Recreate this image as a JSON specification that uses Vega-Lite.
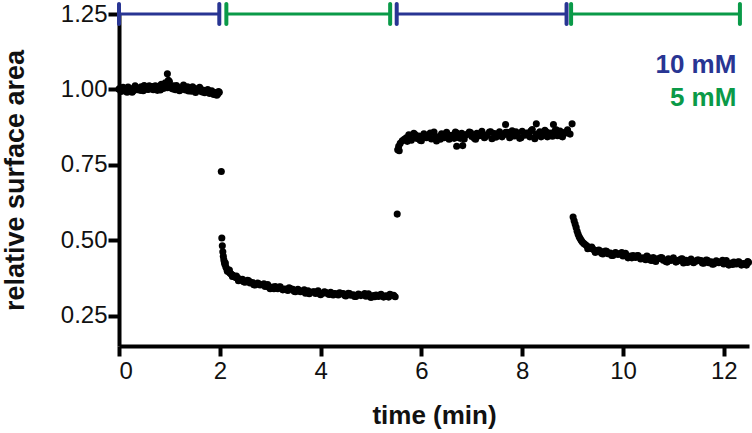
{
  "$schema": "https://vega.github.io/schema/vega-lite/v6.json",
  "autosize": "none",
  "width": 630,
  "height": 332,
  "padding": {"left": 119, "top": 14, "right": 3, "bottom": 87},
  "background": "white",
  "config": {
    "view": {"stroke": null},
    "axis": {"labelFont": "Liberation Sans", "titleFont": "Liberation Sans", "labelColor": "#111", "titleColor": "#111", "grid": false, "domainColor": "#000", "tickColor": "#000", "domainWidth": 4, "tickWidth": 4}
  },
  "datasets": {
    "pts": [
      {"t":0.00,"v":1.001},{"t":0.04,"v":0.993},{"t":0.08,"v":1.007},{"t":0.12,"v":0.997},{"t":0.16,"v":0.991},{"t":0.20,"v":1.004},{"t":0.24,"v":1.002},{"t":0.28,"v":0.995},{"t":0.32,"v":1.012},{"t":0.36,"v":0.999},{"t":0.40,"v":1.003},{"t":0.44,"v":1.009},{"t":0.48,"v":0.996},{"t":0.52,"v":1.006},{"t":0.56,"v":1.001},{"t":0.60,"v":1.012},{"t":0.64,"v":1.005},{"t":0.68,"v":0.999},{"t":0.72,"v":1.012},{"t":0.76,"v":0.997},{"t":0.80,"v":1.011},{"t":0.84,"v":1.017},{"t":0.88,"v":1.003},{"t":0.92,"v":1.022},{"t":0.96,"v":1.052},{"t":0.96,"v":1.006},{"t":1.00,"v":1.026},{"t":1.04,"v":1.005},{"t":1.08,"v":1.012},{"t":1.12,"v":0.999},{"t":1.16,"v":1.008},{"t":1.20,"v":0.996},{"t":1.24,"v":1.003},{"t":1.28,"v":1.015},{"t":1.32,"v":0.998},{"t":1.36,"v":1.009},{"t":1.40,"v":1.000},{"t":1.44,"v":0.994},{"t":1.48,"v":1.005},{"t":1.52,"v":0.990},{"t":1.56,"v":1.002},{"t":1.60,"v":1.007},{"t":1.64,"v":0.992},{"t":1.68,"v":0.997},{"t":1.72,"v":0.993},{"t":1.76,"v":1.000},{"t":1.80,"v":0.987},{"t":1.84,"v":0.996},{"t":1.88,"v":0.983},{"t":1.92,"v":0.990},{"t":1.96,"v":0.985},{"t":1.99,"v":0.991},
      {"t":0.02,"v":1.004},{"t":0.10,"v":0.996},{"t":0.18,"v":1.008},{"t":0.26,"v":0.991},{"t":0.34,"v":1.006},{"t":0.42,"v":0.997},{"t":0.50,"v":1.013},{"t":0.58,"v":1.000},{"t":0.66,"v":1.010},{"t":0.74,"v":1.004},{"t":0.82,"v":0.998},{"t":0.90,"v":1.016},{"t":0.98,"v":1.030},{"t":1.06,"v":1.002},{"t":1.14,"v":1.013},{"t":1.22,"v":0.999},{"t":1.30,"v":1.006},{"t":1.38,"v":0.995},{"t":1.46,"v":1.009},{"t":1.54,"v":0.998},{"t":1.62,"v":1.001},{"t":1.70,"v":0.989},{"t":1.78,"v":0.995},{"t":1.86,"v":0.990},{"t":1.94,"v":0.981},{"t":1.975,"v":0.993},
      {"t":2.03,"v":0.728},{"t":2.04,"v":0.508},{"t":2.05,"v":0.482},{"t":2.06,"v":0.462},{"t":2.07,"v":0.447},{"t":2.08,"v":0.436},{"t":2.09,"v":0.428},{"t":2.10,"v":0.421},{"t":2.11,"v":0.425},{"t":2.12,"v":0.412},{"t":2.14,"v":0.405},{"t":2.15,"v":0.398},{"t":2.16,"v":0.400},{"t":2.18,"v":0.396},{"t":2.19,"v":0.402},{"t":2.20,"v":0.392},{"t":2.22,"v":0.389},{"t":2.24,"v":0.386},{"t":2.25,"v":0.380},{"t":2.26,"v":0.384},{"t":2.28,"v":0.381},{"t":2.30,"v":0.379},{"t":2.32,"v":0.377},{"t":2.33,"v":0.382},{"t":2.34,"v":0.376},{"t":2.36,"v":0.374},{"t":2.37,"v":0.366},{"t":2.38,"v":0.372},{"t":2.40,"v":0.371},{"t":2.42,"v":0.369},
      {"t":2.45,"v":0.371},{"t":2.50,"v":0.361},{"t":2.55,"v":0.368},{"t":2.60,"v":0.359},{"t":2.65,"v":0.360},{"t":2.70,"v":0.352},{"t":2.75,"v":0.359},{"t":2.80,"v":0.352},{"t":2.85,"v":0.353},{"t":2.90,"v":0.347},{"t":2.95,"v":0.354},{"t":3.00,"v":0.340},{"t":3.05,"v":0.345},{"t":3.10,"v":0.347},{"t":3.15,"v":0.340},{"t":3.20,"v":0.346},{"t":3.25,"v":0.336},{"t":3.30,"v":0.339},{"t":3.35,"v":0.334},{"t":3.40,"v":0.340},{"t":3.45,"v":0.338},{"t":3.50,"v":0.330},{"t":3.55,"v":0.338},{"t":3.60,"v":0.330},{"t":3.65,"v":0.332},{"t":3.70,"v":0.325},{"t":3.75,"v":0.333},{"t":3.80,"v":0.328},{"t":3.85,"v":0.330},{"t":3.90,"v":0.324},{"t":3.95,"v":0.333},{"t":4.00,"v":0.320},{"t":4.05,"v":0.325},{"t":4.10,"v":0.328},{"t":4.15,"v":0.322},{"t":4.20,"v":0.328},{"t":4.25,"v":0.319},{"t":4.30,"v":0.323},{"t":4.35,"v":0.319},{"t":4.40,"v":0.325},{"t":4.45,"v":0.324},{"t":4.50,"v":0.316},{"t":4.55,"v":0.325},{"t":4.60,"v":0.318},{"t":4.65,"v":0.320},{"t":4.70,"v":0.314},{"t":4.75,"v":0.322},{"t":4.80,"v":0.317},{"t":4.85,"v":0.320},{"t":4.90,"v":0.315},{"t":4.95,"v":0.323},{"t":5.00,"v":0.311},{"t":5.05,"v":0.317},{"t":5.10,"v":0.319},{"t":5.15,"v":0.314},{"t":5.20,"v":0.321},{"t":5.25,"v":0.312},{"t":5.30,"v":0.316},{"t":5.35,"v":0.312},{"t":5.40,"v":0.319},{"t":5.45,"v":0.318},{"t":5.48,"v":0.313},
      {"t":2.475,"v":0.363},{"t":2.575,"v":0.366},{"t":2.675,"v":0.353},{"t":2.775,"v":0.356},{"t":2.875,"v":0.356},{"t":2.975,"v":0.345},{"t":3.075,"v":0.340},{"t":3.175,"v":0.345},{"t":3.275,"v":0.338},{"t":3.375,"v":0.343},{"t":3.475,"v":0.331},{"t":3.575,"v":0.334},{"t":3.675,"v":0.336},{"t":3.775,"v":0.323},{"t":3.875,"v":0.330},{"t":3.975,"v":0.324},{"t":4.075,"v":0.330},{"t":4.175,"v":0.321},{"t":4.275,"v":0.324},{"t":4.375,"v":0.326},{"t":4.475,"v":0.318},{"t":4.575,"v":0.324},{"t":4.675,"v":0.314},{"t":4.775,"v":0.320},{"t":4.875,"v":0.324},{"t":4.975,"v":0.315},{"t":5.075,"v":0.313},{"t":5.175,"v":0.319},{"t":5.275,"v":0.315},{"t":5.375,"v":0.321},
      {"t":5.52,"v":0.587},{"t":5.53,"v":0.800},{"t":5.55,"v":0.812},{"t":5.56,"v":0.797},{"t":5.58,"v":0.822},{"t":5.62,"v":0.830},{"t":5.66,"v":0.835},{"t":5.70,"v":0.840},{"t":5.72,"v":0.828},
      {"t":5.75,"v":0.850},{"t":5.80,"v":0.832},{"t":5.85,"v":0.855},{"t":5.90,"v":0.838},{"t":5.95,"v":0.846},{"t":6.00,"v":0.830},{"t":6.05,"v":0.853},{"t":6.10,"v":0.840},{"t":6.15,"v":0.849},{"t":6.20,"v":0.836},{"t":6.25,"v":0.859},{"t":6.30,"v":0.829},{"t":6.35,"v":0.844},{"t":6.40,"v":0.853},{"t":6.45,"v":0.840},{"t":6.50,"v":0.858},{"t":6.55,"v":0.835},{"t":6.60,"v":0.848},{"t":6.65,"v":0.838},{"t":6.70,"v":0.856},{"t":6.75,"v":0.840},{"t":6.80,"v":0.855},{"t":6.85,"v":0.836},{"t":6.90,"v":0.851},{"t":6.95,"v":0.859},{"t":7.00,"v":0.844},{"t":7.05,"v":0.838},{"t":7.10,"v":0.855},{"t":7.15,"v":0.847},{"t":7.20,"v":0.861},{"t":7.25,"v":0.840},{"t":7.30,"v":0.850},{"t":7.35,"v":0.859},{"t":7.40,"v":0.837},{"t":7.45,"v":0.854},{"t":7.50,"v":0.845},{"t":7.55,"v":0.860},{"t":7.60,"v":0.843},{"t":7.65,"v":0.851},{"t":7.70,"v":0.858},{"t":7.75,"v":0.840},{"t":7.80,"v":0.863},{"t":7.85,"v":0.846},{"t":7.90,"v":0.854},{"t":7.95,"v":0.838},{"t":8.00,"v":0.861},{"t":8.05,"v":0.848},{"t":8.10,"v":0.856},{"t":8.15,"v":0.843},{"t":8.20,"v":0.867},{"t":8.25,"v":0.837},{"t":8.30,"v":0.852},{"t":8.35,"v":0.860},{"t":8.40,"v":0.847},{"t":8.45,"v":0.865},{"t":8.50,"v":0.843},{"t":8.55,"v":0.856},{"t":8.60,"v":0.845},{"t":8.65,"v":0.863},{"t":8.70,"v":0.847},{"t":8.75,"v":0.862},{"t":8.80,"v":0.843},{"t":8.85,"v":0.858},{"t":8.90,"v":0.866},{"t":8.95,"v":0.852},
      {"t":5.775,"v":0.836},{"t":5.875,"v":0.851},{"t":5.975,"v":0.832},{"t":6.075,"v":0.847},{"t":6.175,"v":0.856},{"t":6.275,"v":0.841},{"t":6.375,"v":0.835},{"t":6.475,"v":0.852},{"t":6.575,"v":0.844},{"t":6.675,"v":0.859},{"t":6.775,"v":0.838},{"t":6.875,"v":0.849},{"t":6.975,"v":0.857},{"t":7.075,"v":0.835},{"t":7.175,"v":0.853},{"t":7.275,"v":0.844},{"t":7.375,"v":0.860},{"t":7.475,"v":0.842},{"t":7.575,"v":0.850},{"t":7.675,"v":0.858},{"t":7.775,"v":0.844},{"t":7.875,"v":0.860},{"t":7.975,"v":0.840},{"t":8.075,"v":0.855},{"t":8.175,"v":0.863},{"t":8.275,"v":0.849},{"t":8.375,"v":0.843},{"t":8.475,"v":0.860},{"t":8.575,"v":0.852},{"t":8.675,"v":0.866},{"t":8.775,"v":0.846},{"t":8.875,"v":0.856},
      {"t":7.67,"v":0.884},{"t":8.28,"v":0.886},{"t":8.62,"v":0.884},{"t":8.99,"v":0.886},{"t":6.70,"v":0.812},{"t":6.82,"v":0.814},
      {"t":9.01,"v":0.577},{"t":9.03,"v":0.565},{"t":9.05,"v":0.554},{"t":9.07,"v":0.543},{"t":9.09,"v":0.530},{"t":9.11,"v":0.520},{"t":9.13,"v":0.512},{"t":9.15,"v":0.506},{"t":9.17,"v":0.500},{"t":9.19,"v":0.495},{"t":9.22,"v":0.490},{"t":9.25,"v":0.486},{"t":9.28,"v":0.482},{"t":9.30,"v":0.472},{"t":9.31,"v":0.478},{"t":9.34,"v":0.476},{"t":9.37,"v":0.473},{"t":9.38,"v":0.478},{"t":9.40,"v":0.471},{"t":9.43,"v":0.468},{"t":9.45,"v":0.460},{"t":9.46,"v":0.466},{"t":9.50,"v":0.463},{"t":9.52,"v":0.468},
      {"t":9.55,"v":0.465},{"t":9.60,"v":0.455},{"t":9.65,"v":0.465},{"t":9.70,"v":0.456},{"t":9.75,"v":0.458},{"t":9.80,"v":0.450},{"t":9.85,"v":0.460},{"t":9.90,"v":0.453},{"t":9.95,"v":0.455},{"t":10.00,"v":0.448},{"t":10.05,"v":0.457},{"t":10.10,"v":0.442},{"t":10.15,"v":0.448},{"t":10.20,"v":0.450},{"t":10.25,"v":0.443},{"t":10.30,"v":0.450},{"t":10.35,"v":0.438},{"t":10.40,"v":0.442},{"t":10.45,"v":0.436},{"t":10.50,"v":0.444},{"t":10.55,"v":0.434},{"t":10.60,"v":0.443},{"t":10.65,"v":0.430},{"t":10.70,"v":0.439},{"t":10.75,"v":0.443},{"t":10.80,"v":0.434},{"t":10.85,"v":0.430},{"t":10.90,"v":0.439},{"t":10.95,"v":0.433},{"t":11.00,"v":0.442},{"t":11.05,"v":0.428},{"t":11.10,"v":0.434},{"t":11.15,"v":0.438},{"t":11.20,"v":0.425},{"t":11.25,"v":0.434},{"t":11.30,"v":0.429},{"t":11.35,"v":0.438},{"t":11.40,"v":0.426},{"t":11.45,"v":0.431},{"t":11.50,"v":0.435},{"t":11.55,"v":0.433},{"t":11.60,"v":0.424},{"t":11.65,"v":0.435},{"t":11.70,"v":0.426},{"t":11.75,"v":0.429},{"t":11.80,"v":0.422},{"t":11.85,"v":0.432},{"t":11.90,"v":0.426},{"t":11.95,"v":0.429},{"t":12.00,"v":0.422},{"t":12.05,"v":0.433},{"t":12.10,"v":0.418},{"t":12.15,"v":0.425},{"t":12.20,"v":0.428},{"t":12.25,"v":0.422},{"t":12.30,"v":0.429},{"t":12.35,"v":0.418},{"t":12.40,"v":0.423},{"t":12.45,"v":0.418},{"t":12.49,"v":0.427},
      {"t":9.575,"v":0.457},{"t":9.675,"v":0.464},{"t":9.775,"v":0.450},{"t":9.875,"v":0.457},{"t":9.975,"v":0.460},{"t":10.075,"v":0.448},{"t":10.175,"v":0.442},{"t":10.275,"v":0.449},{"t":10.375,"v":0.441},{"t":10.475,"v":0.448},{"t":10.575,"v":0.433},{"t":10.675,"v":0.438},{"t":10.775,"v":0.442},{"t":10.875,"v":0.428},{"t":10.975,"v":0.437},{"t":11.075,"v":0.431},{"t":11.175,"v":0.439},{"t":11.275,"v":0.427},{"t":11.375,"v":0.432},{"t":11.475,"v":0.435},{"t":11.575,"v":0.425},{"t":11.675,"v":0.434},{"t":11.775,"v":0.421},{"t":11.875,"v":0.429},{"t":11.975,"v":0.434},{"t":12.075,"v":0.424},{"t":12.175,"v":0.420},{"t":12.275,"v":0.428},{"t":12.375,"v":0.422},{"t":12.475,"v":0.430}
    ],
    "segs": [
      {"start": 0, "end": 1.99, "c": "10 mM"},
      {"start": 2.13, "end": 5.38, "c": "5 mM"},
      {"start": 5.51, "end": 8.88, "c": "10 mM"},
      {"start": 8.97, "end": 12.32, "c": "5 mM"}
    ],
    "labels": [
      {"c": "10 mM", "tx": 12.25, "ty": 1.056},
      {"c": "5 mM", "tx": 12.25, "ty": 0.945}
    ]
  },
  "layer": [
    {
      "data": {"name": "pts"},
      "mark": {"type": "circle", "size": 50, "color": "#000", "opacity": 1},
      "encoding": {
        "x": {"field": "t", "type": "quantitative", "scale": {"domain": [0, 12.5], "nice": false},
          "axis": {"values": [0, 2, 4, 6, 8, 10, 12], "format": "d", "labelFontSize": 24, "tickSize": 10, "labelPadding": 3, "title": "time (min)", "titleFontSize": 26, "titleFontWeight": "bold", "titlePadding": 19}},
        "y": {"field": "v", "type": "quantitative", "scale": {"domain": [0.15, 1.25], "nice": false, "zero": false},
          "axis": {"values": [0.25, 0.5, 0.75, 1.0, 1.25], "format": ".2f", "labelFontSize": 24, "tickSize": 11, "labelPadding": 1, "title": "relative surface area", "titleFontSize": 27, "titleFontWeight": "bold", "titlePadding": 31}}
      }
    },
    {
      "data": {"name": "segs"},
      "mark": {"type": "rule", "strokeWidth": 3, "opacity": 1},
      "encoding": {
        "x": {"field": "start", "type": "quantitative"},
        "x2": {"field": "end"},
        "y": {"datum": 1.25},
        "color": {"field": "c", "type": "nominal", "scale": {"domain": ["10 mM", "5 mM"], "range": ["#283593", "#0A9A48"]}, "legend": null}
      }
    },
    {
      "data": {"name": "segs"},
      "transform": [{"fold": ["start", "end"], "as": ["side", "pos"]}],
      "mark": {"type": "tick", "orient": "vertical", "size": 24, "thickness": 4, "cornerRadius": 2, "opacity": 1},
      "encoding": {
        "x": {"field": "pos", "type": "quantitative"},
        "y": {"datum": 1.25},
        "color": {"field": "c", "type": "nominal", "legend": null}
      }
    },
    {
      "data": {"name": "labels"},
      "mark": {"type": "text", "align": "right", "baseline": "alphabetic", "font": "Liberation Sans", "fontSize": 26, "fontWeight": "bold", "opacity": 1},
      "encoding": {
        "x": {"field": "tx", "type": "quantitative"},
        "y": {"field": "ty", "type": "quantitative"},
        "text": {"field": "c"},
        "color": {"field": "c", "type": "nominal", "legend": null}
      }
    }
  ]
}
